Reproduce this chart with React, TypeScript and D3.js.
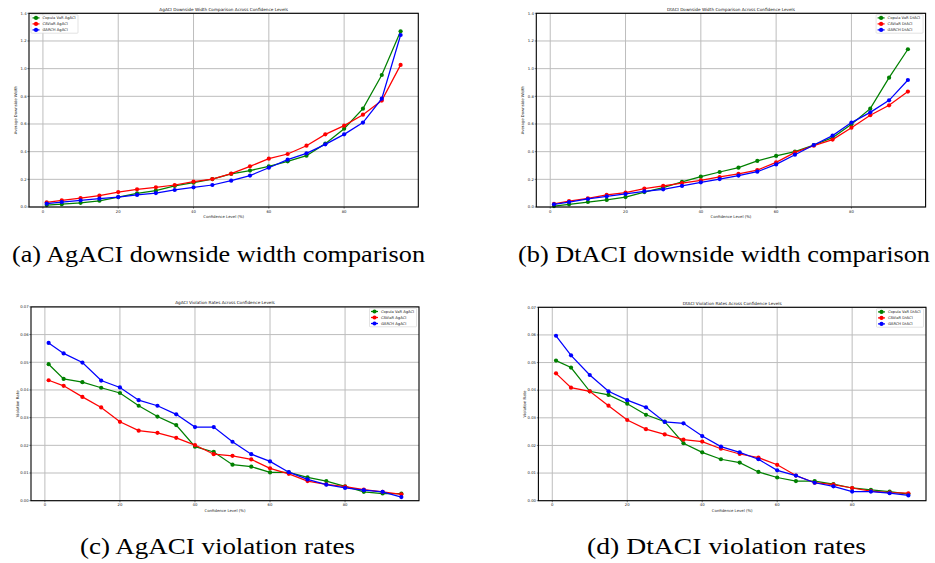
import * as d3 from "d3";

// confidence levels (%) shared by all four panels
const levels = [1, 5, 10, 15, 20, 25, 30, 35, 40, 45, 50, 55, 60, 65, 70, 75, 80, 85, 90, 95];

// (a) AgACI average downside width
const agWidthCopula = [0.014, 0.02, 0.03, 0.045, 0.072, 0.099, 0.118, 0.152, 0.176, 0.202, 0.239, 0.263, 0.294, 0.33, 0.371, 0.458, 0.566, 0.711, 0.954, 1.27];
const agWidthCaviar = [0.034, 0.048, 0.065, 0.082, 0.108, 0.128, 0.142, 0.159, 0.183, 0.202, 0.241, 0.294, 0.349, 0.383, 0.443, 0.525, 0.588, 0.667, 0.769, 1.027];
const agWidthGarch = [0.024, 0.036, 0.048, 0.06, 0.072, 0.087, 0.101, 0.123, 0.142, 0.159, 0.19, 0.227, 0.284, 0.342, 0.388, 0.453, 0.525, 0.61, 0.783, 1.243];

// (b) DtACI average downside width
const dtWidthCopula = [0.007, 0.019, 0.036, 0.051, 0.072, 0.108, 0.14, 0.181, 0.219, 0.253, 0.284, 0.333, 0.369, 0.4, 0.448, 0.501, 0.598, 0.711, 0.935, 1.14];
const dtWidthCaviar = [0.022, 0.043, 0.063, 0.087, 0.104, 0.133, 0.152, 0.173, 0.193, 0.217, 0.239, 0.267, 0.323, 0.395, 0.443, 0.487, 0.573, 0.663, 0.735, 0.834];
const dtWidthGarch = [0.019, 0.036, 0.058, 0.077, 0.094, 0.113, 0.128, 0.152, 0.178, 0.202, 0.227, 0.255, 0.308, 0.378, 0.448, 0.516, 0.61, 0.684, 0.771, 0.918];

// (c) AgACI violation rates
const agViolCopula = [0.0493, 0.044, 0.0428, 0.0408, 0.0389, 0.0343, 0.0304, 0.0273, 0.0195, 0.0176, 0.013, 0.0123, 0.0102, 0.0102, 0.0084, 0.0071, 0.0052, 0.0032, 0.0026, 0.0026];
const agViolCaviar = [0.0435, 0.0415, 0.0375, 0.0337, 0.0285, 0.0253, 0.0245, 0.0227, 0.0201, 0.0168, 0.0162, 0.0149, 0.0117, 0.0097, 0.0071, 0.0059, 0.0051, 0.004, 0.0032, 0.0023];
const agViolGarch = [0.057, 0.0532, 0.0499, 0.0434, 0.0409, 0.0363, 0.0343, 0.0312, 0.0266, 0.0266, 0.0213, 0.0168, 0.0142, 0.0103, 0.0077, 0.0058, 0.0046, 0.0038, 0.0032, 0.0013];

// (d) DtACI violation rates
const dtViolCopula = [0.0507, 0.0482, 0.0396, 0.0383, 0.0351, 0.0311, 0.0286, 0.0208, 0.0175, 0.015, 0.0138, 0.0104, 0.0084, 0.0071, 0.0071, 0.006, 0.0046, 0.0039, 0.0033, 0.0024];
const dtViolCaviar = [0.0461, 0.0409, 0.0396, 0.0344, 0.0292, 0.0259, 0.024, 0.0221, 0.0214, 0.0188, 0.0169, 0.0156, 0.013, 0.0091, 0.0065, 0.0058, 0.0046, 0.0035, 0.0029, 0.0027];
const dtViolGarch = [0.0597, 0.0526, 0.0455, 0.0396, 0.0364, 0.0338, 0.0285, 0.028, 0.0234, 0.0196, 0.0175, 0.015, 0.011, 0.0091, 0.0065, 0.0052, 0.0033, 0.0033, 0.0027, 0.0019];

const xTicks = [0, 20, 40, 60, 80];
const widthTicks = [0, 0.2, 0.4, 0.6, 0.8, 1.0, 1.2, 1.4];
const violTicks = [0, 0.01, 0.02, 0.03, 0.04, 0.05, 0.06, 0.07];

const colors = ["#008000", "#ff0000", "#0000ff"];
const font = "DejaVu Sans";

type PanelProps = {
  box: [number, number, number, number]; // left, right, top, bottom
  yMax: number;
  yTicks: number[];
  fmt: string;
  title: string;
  ylabel: string;
  names: string[];
  series: number[][];
  legendLeft: boolean;
};

const Panel = ({ box, yMax, yTicks, fmt, title, ylabel, names, series, legendLeft }: PanelProps) => {
  const [l, r, t, b] = box;
  const x = d3.scaleLinear().domain([-3.7, 99.7]).range([l, r]);
  const y = d3.scaleLinear().domain([0, yMax]).range([b, t]);
  const line = d3.line<number>().x((_, i) => x(levels[i])).y(d => y(d));
  const f = d3.format(fmt);

  const lgW = 47, lgH = 18.5;
  const lgX = legendLeft ? l + 2 : r - lgW - 2.5;
  const lgY = t + 1.4;

  return (
    <g>
      {xTicks.map(v => (
        <line key={"gx" + v} x1={x(v)} x2={x(v)} y1={t} y2={b} stroke="#bdbdbd" strokeWidth={1} />
      ))}
      {yTicks.map(v => (
        <line key={"gy" + v} x1={l} x2={r} y1={y(v)} y2={y(v)} stroke="#bdbdbd" strokeWidth={1} />
      ))}
      {series.map((s, k) => (
        <g key={"s" + k}>
          <path d={line(s) || ""} fill="none" stroke={colors[k]} strokeWidth={1.25} />
          {s.map((d, i) => (
            <circle key={i} cx={x(levels[i])} cy={y(d)} r={2.1} fill={colors[k]} />
          ))}
        </g>
      ))}
      <rect x={l} y={t} width={r - l} height={b - t} fill="none" stroke="#000" strokeWidth={1.1} />
      {xTicks.map(v => (
        <g key={"tx" + v}>
          <line x1={x(v)} x2={x(v)} y1={b} y2={b + 1.6} stroke="#000" strokeWidth={0.5} />
          <text x={x(v)} y={b + 5.6} fontSize={3.8} fontFamily={font} textAnchor="middle" fill="#222">{v}</text>
        </g>
      ))}
      {yTicks.map(v => (
        <g key={"ty" + v}>
          <line x1={l - 1.6} x2={l} y1={y(v)} y2={y(v)} stroke="#000" strokeWidth={0.5} />
          <text x={l - 2.4} y={y(v) + 1.3} fontSize={3.8} fontFamily={font} textAnchor="end" fill="#222">{f(v)}</text>
        </g>
      ))}
      <text x={(l + r) / 2} y={t - 2.6} fontSize={4.2} fontFamily={font} textAnchor="middle" fill="#111">{title}</text>
      <text x={(l + r) / 2} y={b + 11} fontSize={3.85} fontFamily={font} textAnchor="middle" fill="#222">Confidence Level (%)</text>
      <text transform={`translate(${l - 12.5},${(t + b) / 2}) rotate(-90)`} fontSize={3.85} fontFamily={font} textAnchor="middle" fill="#222">{ylabel}</text>
      <g>
        <rect x={lgX} y={lgY} width={lgW} height={lgH} rx={0.8} fill="#fff" fillOpacity={0.85} stroke="#d0d0d0" strokeWidth={0.6} />
        {names.map((n, k) => (
          <g key={n}>
            <line x1={lgX + 1.5} x2={lgX + 8.5} y1={lgY + 3.2 + k * 6} y2={lgY + 3.2 + k * 6} stroke={colors[k]} strokeWidth={1.25} />
            <circle cx={lgX + 5} cy={lgY + 3.2 + k * 6} r={2.1} fill={colors[k]} />
            <text x={lgX + 11.5} y={lgY + 4.5 + k * 6} fontSize={3.7} fontFamily={font} fill="#222">{n}</text>
          </g>
        ))}
      </g>
    </g>
  );
};

const captionFont = "'Liberation Serif', serif";

const App = () => {
  return (
    <svg width={935} height={563} style={{ position: "absolute", left: 0, top: 0, background: "#fff" }}>
      <rect width={935} height={563} fill="#fff" />
      <Panel box={[29, 418.3, 13.3, 207]} yMax={1.4} yTicks={widthTicks} fmt=".1f"
        title="AgACI Downside Width Comparison Across Confidence Levels" ylabel="Average Downside Width"
        names={["Copula VaR AgACI", "CAViaR AgACI", "GARCH AgACI"]}
        series={[agWidthCopula, agWidthCaviar, agWidthGarch]} legendLeft={true} />
      <Panel box={[536.3, 925.6, 13.3, 207]} yMax={1.4} yTicks={widthTicks} fmt=".1f"
        title="DtACI Downside Width Comparison Across Confidence Levels" ylabel="Average Downside Width"
        names={["Copula VaR DtACI", "CAViaR DtACI", "GARCH DtACI"]}
        series={[dtWidthCopula, dtWidthCaviar, dtWidthGarch]} legendLeft={false} />
      <Panel box={[31, 419, 306.9, 500.7]} yMax={0.07} yTicks={violTicks} fmt=".2f"
        title="AgACI Violation Rates Across Confidence Levels" ylabel="Violation Rate"
        names={["Copula VaR AgACI", "CAViaR AgACI", "GARCH AgACI"]}
        series={[agViolCopula, agViolCaviar, agViolGarch]} legendLeft={false} />
      <Panel box={[538.4, 926, 307.3, 500.7]} yMax={0.07} yTicks={violTicks} fmt=".2f"
        title="DtACI Violation Rates Across Confidence Levels" ylabel="Violation Rate"
        names={["Copula VaR DtACI", "CAViaR DtACI", "GARCH DtACI"]}
        series={[dtViolCopula, dtViolCaviar, dtViolGarch]} legendLeft={false} />

      <text x={12} y={262} fontSize={23} fontFamily={captionFont} textLength={413} lengthAdjust="spacingAndGlyphs">(a) AgACI downside width comparison</text>
      <text x={518} y={262} fontSize={23} fontFamily={captionFont} textLength={412} lengthAdjust="spacingAndGlyphs">(b) DtACI downside width comparison</text>
      <text x={80} y={554} fontSize={23} fontFamily={captionFont} textLength={275} lengthAdjust="spacingAndGlyphs">(c) AgACI violation rates</text>
      <text x={587} y={554} fontSize={23} fontFamily={captionFont} textLength={279} lengthAdjust="spacingAndGlyphs">(d) DtACI violation rates</text>
    </svg>
  );
};

export default App;
